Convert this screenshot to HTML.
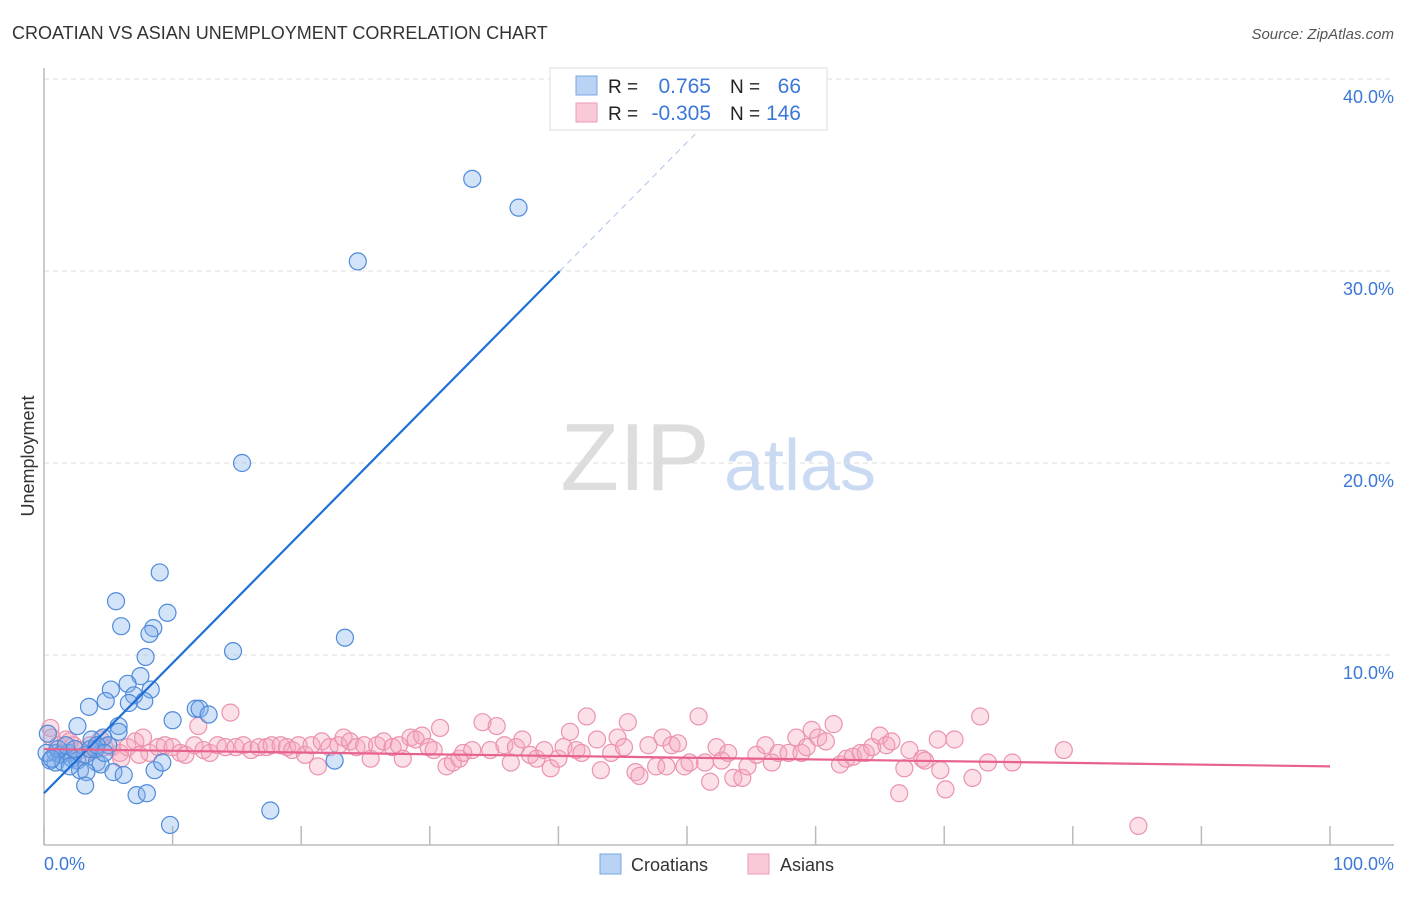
<!DOCTYPE html>
<html><head><meta charset="utf-8"><style>
body{margin:0;background:#fff;font-family:"Liberation Sans",sans-serif;}
svg text{font-family:"Liberation Sans",sans-serif;}
</style></head><body>
<svg id="chart" width="1406" height="892" viewBox="0 0 1406 892" xmlns="http://www.w3.org/2000/svg">
<text x="12" y="39" font-size="18" fill="#333">CROATIAN VS ASIAN UNEMPLOYMENT CORRELATION CHART</text>
<text x="1394" y="39" font-size="15" fill="#555" font-style="italic" text-anchor="end">Source: ZipAtlas.com</text>
<g>
<text x="635" y="490" font-size="96" font-family="Liberation Serif" fill="#ddd" text-anchor="middle">ZIP</text>
<text x="800" y="490" font-size="72" fill="#c9daf2" text-anchor="middle">atlas</text>
</g>
<g id="grid"></g>
<g id="axes"></g>
<g id="pinkpts"></g>
<g id="bluepts"></g>
<g id="lines"></g>
<text transform="translate(34,456) rotate(-90)" font-size="18" fill="#333" text-anchor="middle">Unemployment</text>
<text x="44" y="870" font-size="18" fill="#3b78d8">0.0%</text>
<text x="1394" y="870" font-size="18" fill="#3b78d8" text-anchor="end">100.0%</text>
<g>
<rect x="550" y="68" width="277" height="62" fill="#fff" stroke="#ddd"/>
<rect x="576" y="76" width="21" height="19" fill="#b9d3f5" stroke="#7aa6e0"/>
<rect x="576" y="103" width="21" height="19" fill="#f9c9d7" stroke="#ee9ab5"/>
<text x="608" y="93" font-size="19" fill="#222">R = </text>
<text x="711" y="93" font-size="21" fill="#3b78d8" text-anchor="end">0.765</text>
<text x="730" y="93" font-size="19" fill="#222">N = </text>
<text x="801" y="93" font-size="21" fill="#3b78d8" text-anchor="end">66</text>
<text x="608" y="120" font-size="19" fill="#222">R = </text>
<text x="711" y="120" font-size="21" fill="#3b78d8" text-anchor="end">-0.305</text>
<text x="730" y="120" font-size="19" fill="#222">N = </text>
<text x="801" y="120" font-size="21" fill="#3b78d8" text-anchor="end">146</text>
</g>
<g>
<rect x="600" y="854" width="21" height="20" fill="#b9d3f5" stroke="#7aa6e0"/>
<text x="631" y="871" font-size="18" fill="#333">Croatians</text>
<rect x="748" y="854" width="21" height="20" fill="#f9c9d7" stroke="#ee9ab5"/>
<text x="780" y="871" font-size="18" fill="#333">Asians</text>
</g>
</svg>
<script>
const yTicks=[10,20,30,40];
const yTickLabels=["10.0%","20.0%","30.0%","40.0%"];
const xTicks=[0,10,20,30,40,50,60,70,80,90,100];
const blueX=[33.3,36.9,24.4,15.4,9.0,5.6,9.6,6.0,8.5,8.2,23.4,14.7,7.9,7.5,6.5,5.2,8.3,7.0,3.5,4.8,7.8,6.6,11.8,12.1,12.8,10.0,5.8,5.8,2.6,4.6,0.3,3.7,5.0,0.9,1.3,1.9,0.5,0.9,1.5,2.2,2.6,3.2,4.0,4.1,4.4,2.8,3.3,5.4,6.2,8.6,9.2,22.6,3.2,7.2,8.0,9.8,17.6,0.2,1.1,1.7,2.4,3.6,4.1,4.7,2.0,0.6];
const blueY=[34.8,33.3,30.5,20.0,14.3,12.8,12.2,11.5,11.4,11.1,10.9,10.2,9.9,8.9,8.5,8.2,8.2,7.9,7.3,7.6,7.6,7.5,7.2,7.2,6.9,6.6,6.3,6.0,6.3,5.7,5.9,5.6,5.3,4.9,4.8,4.9,4.5,4.4,4.4,4.6,4.5,4.8,5.1,4.4,4.3,4.0,3.9,3.9,3.75,4.0,4.4,4.5,3.2,2.7,2.8,1.15,1.9,4.9,5.1,5.3,5.1,5.1,5.3,4.9,4.2,4.6];
const pinkX=[0.5,0.6,1.1,1.7,2.3,2.8,3.6,4.0,4.7,5.3,5.9,6.5,7.1,7.7,8.2,8.9,9.4,10.0,10.6,11.0,11.7,12.0,12.4,12.9,13.5,14.1,14.5,14.9,15.5,16.1,16.7,17.3,17.7,18.4,18.9,19.3,19.8,20.3,20.8,21.3,21.6,22.2,22.9,23.3,23.8,24.3,24.9,25.4,25.9,26.4,27.1,27.6,27.9,28.5,28.9,29.4,29.9,30.3,30.8,31.3,31.8,32.3,32.6,33.3,34.1,34.7,35.2,35.8,36.3,36.7,37.2,37.8,38.3,38.9,39.4,40.0,40.4,40.9,41.4,41.8,42.2,43.0,43.3,44.1,44.6,45.1,45.4,46.0,46.3,47.0,47.6,48.1,48.4,48.8,49.3,49.8,50.2,50.9,51.4,51.8,52.3,52.7,53.2,53.6,54.3,54.7,55.4,56.1,56.6,57.1,57.9,58.5,58.9,59.3,59.7,60.2,60.8,61.4,61.9,62.4,62.9,63.5,63.9,64.4,65.0,65.5,65.9,66.5,66.9,67.3,68.3,68.5,69.5,69.7,70.1,70.8,72.2,72.8,73.4,75.3,79.3,85.1,1.4,2.0,3.0,4.4,6.0,7.4];
const pinkY=[6.2,5.7,5.3,5.6,5.3,5.05,5.3,5.05,5.2,5.2,4.9,5.2,5.5,5.7,4.9,5.2,5.3,5.2,4.9,4.8,5.3,6.3,5.05,4.9,5.3,5.2,7.0,5.2,5.3,5.05,5.2,5.2,5.3,5.3,5.2,5.05,5.3,4.8,5.3,4.2,5.5,5.2,5.3,5.7,5.5,5.2,5.3,4.6,5.3,5.5,5.2,5.3,4.6,5.7,5.6,5.8,5.2,5.05,6.2,4.2,4.4,4.6,4.9,5.05,6.5,5.05,6.3,5.3,4.4,5.2,5.6,4.8,4.6,5.05,4.1,4.6,5.2,6.0,5.05,4.9,6.8,5.6,4.0,4.9,5.7,5.2,6.5,3.9,3.7,5.3,4.2,5.7,4.2,5.3,5.4,4.2,4.4,6.8,4.4,3.4,5.2,4.5,4.9,3.6,3.6,4.2,4.8,5.3,4.4,4.9,4.9,5.7,4.9,5.2,6.1,5.7,5.5,6.4,4.3,4.6,4.7,4.9,4.9,5.2,5.8,5.3,5.5,2.8,4.1,5.05,4.6,4.5,5.6,4.0,3.0,5.6,3.6,6.8,4.4,4.4,5.05,1.1,4.9,5.5,4.7,5.6,4.6,4.8];
const blueTrend=[2.8,0.678];
const pinkTrend=[5.1,-0.009];
const NS="http://www.w3.org/2000/svg";
const X0=44,X1=1330,Y0=847,YPX=19.2;
function sx(v){return X0+(X1-X0)*v/100;}
function sy(v){return Y0-v*YPX;}
function mk(tag,attrs,parent){const e=document.createElementNS(NS,tag);for(const k in attrs)e.setAttribute(k,attrs[k]);parent.appendChild(e);return e;}
const grid=document.getElementById('grid'),axes=document.getElementById('axes');
yTicks.forEach((t,i)=>{
  const l=mk('line',{x1:X0,x2:1394,y1:sy(t),y2:sy(t),stroke:'#ddd','stroke-dasharray':'5,4'},grid);
  
  
  const tx=mk('text',{x:1394,y:sy(t)+24,'font-size':18,fill:'#3b78d8','text-anchor':'end'},axes);
  tx.textContent=yTickLabels[i];
  
  
});
const ax=mk('line',{x1:X0,x2:X0,y1:68,y2:845,stroke:'#bbb','stroke-width':1.5},axes);


const bx=mk('line',{x1:X0,x2:1394,y1:845,y2:845,stroke:'#bbb','stroke-width':1.5},axes);


xTicks.forEach(t=>{
  const l=mk('line',{x1:sx(t),x2:sx(t),y1:826,y2:845,stroke:'#bbb','stroke-width':1.5},axes);
  
  
});
const pg=document.getElementById('pinkpts');
pinkX.forEach((v,i)=>{
  const c=mk('circle',{cx:sx(v),cy:sy(pinkY[i]),r:8.5,fill:'rgba(245,165,190,0.35)',stroke:'#eb93ae','stroke-width':1.2},pg);
  
  
});
const bg=document.getElementById('bluepts');
blueX.forEach((v,i)=>{
  const c=mk('circle',{cx:sx(v),cy:sy(blueY[i]),r:8.5,fill:'rgba(130,175,235,0.35)',stroke:'#4f8bdb','stroke-width':1.2},bg);
  
  
});
const lg=document.getElementById('lines');
const bEnd=40.1, bDash=52.6;
const bl=mk('line',{x1:sx(0),y1:sy(blueTrend[0]),x2:sx(bEnd),y2:sy(blueTrend[0]+blueTrend[1]*bEnd),stroke:'#1f6fd6','stroke-width':2.2},lg);


const bd=mk('line',{x1:sx(bEnd),y1:sy(blueTrend[0]+blueTrend[1]*bEnd),x2:sx(bDash),y2:sy(blueTrend[0]+blueTrend[1]*bDash),stroke:'#a9c4ea','stroke-width':1,'stroke-dasharray':'6,5'},lg);


const pl=mk('line',{x1:sx(0),y1:sy(pinkTrend[0]),x2:sx(100),y2:sy(pinkTrend[0]+pinkTrend[1]*100),stroke:'#e8628e','stroke-width':2.2},lg);


</script>
</body></html>
